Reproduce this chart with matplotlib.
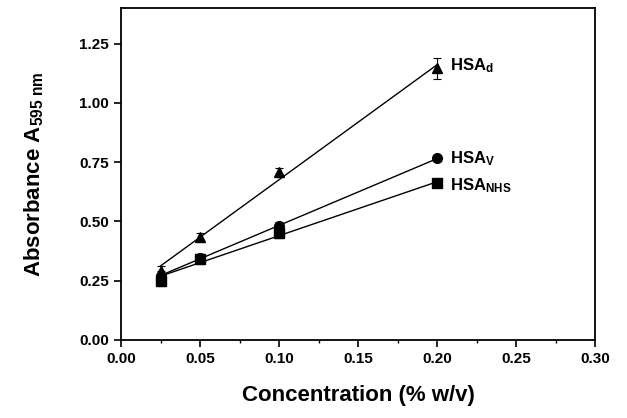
import numpy as np
from matplotlib import pyplot as plt
from matplotlib.ticker import MultipleLocator

plt.rcParams['font.family'] = 'Liberation Sans'
plt.rcParams['font.weight'] = 'bold'
plt.rcParams['mathtext.fontset'] = 'custom'
plt.rcParams['mathtext.rm'] = 'Liberation Sans:bold'
plt.rcParams['mathtext.it'] = 'Liberation Sans:bold'
plt.rcParams['mathtext.bf'] = 'Liberation Sans:bold'

conc = [0.025, 0.05, 0.10, 0.20]

hsa_d = [0.29, 0.435, 0.71, 1.145]
hsa_d_err = [0.02, 0.015, 0.015, 0.045]

hsa_v = [0.27, 0.345, 0.48, 0.765]
hsa_v_err = [0.02, 0.015, 0.015, 0.01]

hsa_nhs = [0.25, 0.34, 0.45, 0.66]
hsa_nhs_err = [0.025, 0.02, 0.02, 0.01]

labels = ['HSA$_{d}$', 'HSA$_{V}$', 'HSA$_{NHS}$']

fig = plt.figure(figsize=(6.27, 4.18), dpi=100)
ax = fig.add_axes([0.193, 0.187, 0.756, 0.794])

series = [(hsa_d, hsa_d_err, '^'), (hsa_v, hsa_v_err, 'o'), (hsa_nhs, hsa_nhs_err, 's')]
label_y_off = [0.01, 0.0, -0.01]
for (y, e, m), lab, dy in zip(series, labels, label_y_off):
    ax.errorbar(conc, y, yerr=e, fmt=m, color='black', ms=7,
                capsize=3, elinewidth=0.8, capthick=0.8)
    k, b = np.polyfit(conc, y, 1)
    xs = np.array([conc[0], conc[-1]])
    ax.plot(xs, k*xs + b, color='black', lw=1)
    ax.text(conc[-1] + 0.008, y[-1] + dy, lab, fontsize=12, fontweight='bold',
            va='center', ha='left')

ax.set_xlim(0, 0.30)
ax.set_ylim(0, 1.4)
ax.set_xticks(np.arange(0, 0.301, 0.05))
ax.set_yticks(np.arange(0, 1.26, 0.25))
ax.xaxis.set_minor_locator(MultipleLocator(0.025))
ax.xaxis.set_major_formatter(plt.FormatStrFormatter('%.2f'))
ax.yaxis.set_major_formatter(plt.FormatStrFormatter('%.2f'))
ax.tick_params(direction='out', length=5, width=1.2, labelsize=11)
ax.tick_params(which='minor', direction='out', length=2.5, width=1)
for s in ax.spines.values():
    s.set_linewidth(1.3)

ax.set_xlabel('Concentration (% w/v)', fontsize=16, fontweight='bold', labelpad=14)
ax.set_ylabel('Absorbance A$_{595\\ nm}$', fontsize=16, fontweight='bold', labelpad=24)

plt.savefig('out.png', dpi=100)
